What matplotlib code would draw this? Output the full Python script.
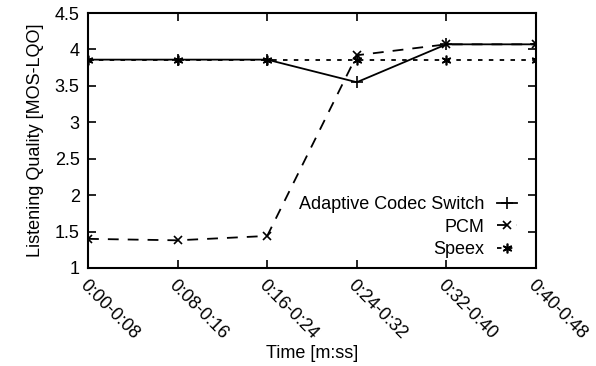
import numpy as np
import matplotlib
matplotlib.use("Agg")
from matplotlib import pyplot as plt

plt.rcParams['font.family'] = ['Liberation Sans', 'DejaVu Sans']
plt.rcParams['font.size'] = 13

etiquetas = ['0:00-0:08', '0:08-0:16', '0:16-0:24', '0:24-0:32', '0:32-0:40', '0:40-0:48']
adaptive = [3.86, 3.86, 3.86, 3.55, 4.07, 4.07]
pcm = [1.40, 1.38, 1.44, 3.92, 4.07, 4.07]
speex = [3.86, 3.86, 3.86, 3.86, 3.86, 3.86]

x = np.arange(len(etiquetas))

fig = plt.figure(figsize=(5.96, 3.66), dpi=100)
ax = fig.add_axes([88/596, 1 - 268/366, (536-88)/596, (268-13)/366])

ax.plot(x, adaptive, '-', color='black', lw=1.3, marker='+', ms=8, mew=1.2,
        label='Adaptive Codec Switch')
ax.plot(x, pcm, color='black', lw=1.3, dashes=(6, 5), marker='x', ms=6, mew=1.2,
        label='PCM')
ax.plot(x, speex, color='black', lw=1.3, dashes=(2.5, 3.5), marker=(6, 2, 0), ms=7, mew=1.2,
        label='Speex')

ax.set_xlim(0, 5)
ax.set_ylim(1, 4.5)
ax.set_yticks(np.arange(1, 4.51, 0.5))
ax.set_yticklabels(['1', '1.5', '2', '2.5', '3', '3.5', '4', '4.5'])
ax.set_xticks(x)
ax.set_xticklabels(etiquetas, rotation=-45, ha='left', va='top', rotation_mode='anchor')
ax.tick_params(direction='in', top=True, right=True, length=6, width=1.2, pad=6)
ax.tick_params(axis='x', pad=6)
for s in ax.spines.values():
    s.set_linewidth(1.5)

ax.set_xlabel('Time [m:ss]', labelpad=2)
ax.set_ylabel('Listening Quality [MOS-LQO]', labelpad=8)

ax.legend(loc='lower right', frameon=False, markerfirst=False, handlelength=1.1,
          handletextpad=0.7, labelspacing=0.3, borderaxespad=0, borderpad=0,
          bbox_to_anchor=((517-88)/448, 10/255))
for t in ax.get_legend().get_texts():
    t.set_ha('right')

fig.savefig('out.png', dpi=100)
